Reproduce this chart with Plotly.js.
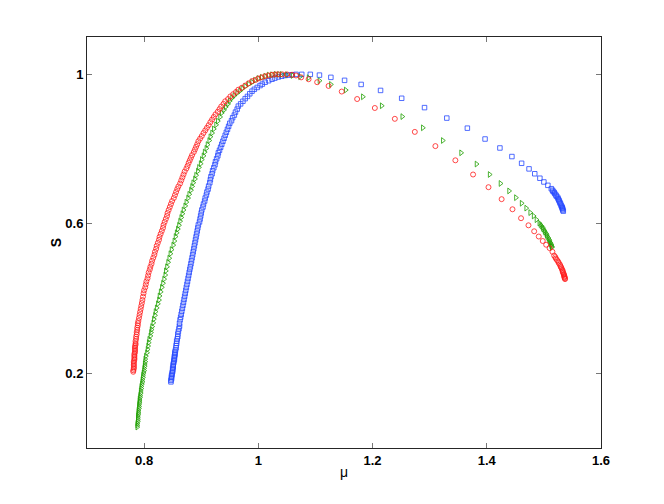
<!DOCTYPE html>
<html>
<head>
<meta charset="utf-8">
<script src="https://cdn.plot.ly/plotly-3.0.1.min.js"></script>
<style>
  html, body { margin: 0; padding: 0; background: #fff; }
  #chart { width: 664px; height: 504px; }
</style>
</head>
<body>
<div id="chart"></div>
<script>
(function () {
    'use strict';

    // values
    var redX = [
        0.781, 0.781, 0.782, 0.782, 0.782, 0.782, 0.782, 0.782, 0.783, 0.783, 0.783, 0.783, 0.783, 0.784, 0.784, 0.784, 0.784, 0.784, 0.785, 0.785,
        0.785, 0.786, 0.786, 0.787, 0.787, 0.788, 0.788, 0.789, 0.789, 0.790,
        0.791, 0.792, 0.793, 0.794, 0.795, 0.796, 0.797, 0.798, 0.799,
        0.800, 0.802, 0.803, 0.804, 0.806, 0.807, 0.808, 0.810, 0.811,
        0.813, 0.814, 0.816, 0.818, 0.819, 0.821, 0.822, 0.824, 0.826,
        0.827, 0.829, 0.831, 0.833, 0.834, 0.836, 0.838, 0.840, 0.841, 0.843,
        0.845, 0.847, 0.849, 0.852, 0.854, 0.856, 0.858, 0.860,
        0.863, 0.865, 0.867, 0.869, 0.871, 0.874, 0.876, 0.878,
        0.880, 0.882, 0.884, 0.887, 0.889, 0.891, 0.893, 0.895,
        0.898, 0.901, 0.904, 0.907, 0.910, 0.913, 0.916, 0.919,
        0.922, 0.925, 0.929, 0.932, 0.935, 0.939, 0.942,
        0.947, 0.951, 0.956, 0.961, 0.965,
        0.971, 0.977, 0.983, 0.989,
        0.995, 1.000, 1.006, 1.012,
        1.018, 1.024, 1.030, 1.035,
        1.042, 1.050, 1.059, 1.066,
        1.075, 1.088, 1.103, 1.123, 1.146, 1.173, 1.204, 1.239, 1.274, 1.310, 1.345, 1.376,
        1.403, 1.426, 1.445, 1.460, 1.473, 1.483, 1.491, 1.498, 1.504, 1.510, 1.515,
        1.518, 1.520, 1.521, 1.523, 1.525, 1.526, 1.528, 1.529, 1.530, 1.531, 1.532,
        1.533, 1.533, 1.534, 1.535, 1.535, 1.536, 1.536, 1.536, 1.537, 1.537
    ];
    var redY = [
        0.204, 0.208, 0.212, 0.216, 0.220, 0.224, 0.228, 0.232, 0.236, 0.240, 0.244, 0.248, 0.252, 0.256, 0.260, 0.264, 0.268, 0.272, 0.276, 0.280,
        0.286, 0.292, 0.298, 0.304, 0.310, 0.316, 0.322, 0.328, 0.334, 0.340,
        0.348, 0.356, 0.364, 0.372, 0.380, 0.388, 0.396, 0.405, 0.414,
        0.422, 0.430, 0.438, 0.446, 0.454, 0.462, 0.470, 0.478, 0.485,
        0.493, 0.501, 0.509, 0.517, 0.525, 0.533, 0.541, 0.549, 0.557,
        0.565, 0.573, 0.581, 0.589, 0.597, 0.605, 0.613, 0.621, 0.629, 0.637,
        0.645, 0.653, 0.661, 0.669, 0.677, 0.685, 0.693, 0.700,
        0.708, 0.716, 0.724, 0.732, 0.740, 0.748, 0.755, 0.763,
        0.770, 0.777, 0.784, 0.792, 0.799, 0.806, 0.813, 0.821,
        0.828, 0.835, 0.843, 0.850, 0.857, 0.864, 0.872, 0.879,
        0.886, 0.893, 0.900, 0.907, 0.914, 0.921, 0.928,
        0.934, 0.941, 0.947, 0.953, 0.959,
        0.964, 0.970, 0.976, 0.982,
        0.985, 0.989, 0.992, 0.995,
        0.997, 0.999, 1.000, 1.000,
        1.000, 1.000, 0.999, 0.997,
        0.992, 0.987, 0.979, 0.969, 0.954, 0.934, 0.910, 0.881, 0.846, 0.808, 0.770, 0.732,
        0.698, 0.666, 0.639, 0.615, 0.596, 0.580, 0.566, 0.554, 0.544, 0.535, 0.525,
        0.515, 0.511, 0.507, 0.503, 0.499, 0.495, 0.491, 0.487, 0.484, 0.481, 0.477,
        0.474, 0.471, 0.468, 0.465, 0.463, 0.460, 0.458, 0.456, 0.454, 0.452
    ];

    var greenX = [
        0.788, 0.788, 0.788, 0.789, 0.789, 0.789, 0.789, 0.790, 0.790, 0.790, 0.791, 0.791, 0.791, 0.792, 0.792, 0.792, 0.793, 0.793,
        0.794, 0.794, 0.795, 0.795, 0.796, 0.797, 0.797, 0.798, 0.798, 0.799, 0.800, 0.800, 0.801, 0.801, 0.802,
        0.802, 0.803, 0.805, 0.806, 0.807, 0.808, 0.809, 0.811, 0.812, 0.813, 0.814,
        0.816, 0.817, 0.819, 0.820, 0.822, 0.824, 0.826,
        0.827, 0.829, 0.831, 0.833, 0.835, 0.837, 0.838, 0.840,
        0.842, 0.844, 0.846, 0.848, 0.851, 0.853, 0.855,
        0.857, 0.859, 0.861, 0.863, 0.865, 0.867, 0.869,
        0.872, 0.874, 0.877, 0.879, 0.882, 0.884,
        0.886, 0.889, 0.891, 0.894, 0.896, 0.899, 0.901,
        0.904, 0.906, 0.909, 0.911, 0.914, 0.916, 0.919,
        0.922, 0.926, 0.929, 0.933, 0.936,
        0.940, 0.943, 0.947, 0.950, 0.954,
        0.958, 0.963, 0.968, 0.972, 0.977,
        0.983, 0.989, 0.994, 1.000,
        1.006, 1.012, 1.018, 1.024,
        1.030, 1.036, 1.041,
        1.050, 1.060, 1.073,
        1.088, 1.107, 1.127, 1.153, 1.183, 1.216, 1.252, 1.288, 1.323, 1.355, 1.382,
        1.405, 1.424, 1.439, 1.451, 1.461, 1.469, 1.476, 1.482, 1.487, 1.492,
        1.494, 1.496, 1.498, 1.499, 1.501, 1.502, 1.504, 1.505, 1.506,
        1.508, 1.509, 1.510, 1.511, 1.512, 1.513, 1.513, 1.514, 1.514
    ];
    var greenY = [
        0.056, 0.061, 0.066, 0.071, 0.076, 0.081, 0.086, 0.091, 0.096, 0.101, 0.106, 0.111, 0.116, 0.121, 0.126, 0.131, 0.136, 0.141,
        0.147, 0.153, 0.159, 0.165, 0.171, 0.177, 0.183, 0.189, 0.195, 0.201, 0.207, 0.213, 0.219, 0.225, 0.231,
        0.238, 0.246, 0.255, 0.264, 0.273, 0.282, 0.291, 0.300, 0.309, 0.317, 0.325,
        0.335, 0.345, 0.355, 0.365, 0.375, 0.386, 0.396,
        0.407, 0.418, 0.430, 0.441, 0.452, 0.463, 0.474, 0.485,
        0.497, 0.508, 0.520, 0.531, 0.543, 0.554, 0.566,
        0.576, 0.586, 0.596, 0.607, 0.617, 0.627, 0.637,
        0.648, 0.658, 0.669, 0.679, 0.690, 0.700,
        0.710, 0.720, 0.730, 0.741, 0.751, 0.761, 0.772,
        0.782, 0.792, 0.802, 0.812, 0.823, 0.833, 0.843,
        0.854, 0.865, 0.875, 0.886, 0.897,
        0.905, 0.913, 0.921, 0.929, 0.937,
        0.943, 0.950, 0.956, 0.962, 0.968,
        0.974, 0.979, 0.984, 0.989,
        0.992, 0.995, 0.998, 0.999,
        1.000, 1.000, 1.000,
        0.999, 0.997, 0.994,
        0.991, 0.983, 0.973, 0.958, 0.940, 0.916, 0.887, 0.857, 0.823, 0.790, 0.760,
        0.732, 0.708, 0.688, 0.670, 0.655, 0.642, 0.630, 0.621, 0.611, 0.602,
        0.598, 0.594, 0.590, 0.586, 0.582, 0.578, 0.574, 0.570, 0.566,
        0.562, 0.558, 0.554, 0.550, 0.547, 0.544, 0.541, 0.539, 0.537
    ];

    var blueX = [
        0.847, 0.847, 0.848, 0.848, 0.848, 0.849, 0.849, 0.850, 0.850, 0.850, 0.851, 0.851, 0.851, 0.852, 0.852, 0.853, 0.853, 0.853, 0.854, 0.854, 0.854, 0.855,
        0.856, 0.856, 0.857, 0.857, 0.858, 0.859, 0.859, 0.860, 0.861, 0.862, 0.862, 0.863,
        0.864, 0.865, 0.866, 0.867, 0.868, 0.869, 0.870, 0.871, 0.872,
        0.873, 0.874, 0.875, 0.876, 0.877, 0.878, 0.879, 0.880, 0.881,
        0.882, 0.883, 0.884, 0.885, 0.886, 0.887, 0.888, 0.889, 0.890,
        0.891, 0.892, 0.893, 0.894, 0.895, 0.897, 0.898, 0.899, 0.900, 0.901,
        0.903, 0.904, 0.906, 0.907, 0.909, 0.910, 0.912, 0.913, 0.915, 0.916,
        0.917, 0.919, 0.920, 0.922, 0.924, 0.925, 0.927, 0.929, 0.930,
        0.932, 0.934, 0.936, 0.938, 0.940, 0.942, 0.944, 0.946, 0.948,
        0.950, 0.953, 0.955, 0.958, 0.960, 0.963, 0.965,
        0.969, 0.973, 0.977, 0.981, 0.985, 0.989,
        0.993, 0.998, 1.003, 1.007, 1.012,
        1.018, 1.024, 1.029, 1.035,
        1.041, 1.047, 1.053, 1.059,
        1.066, 1.076,
        1.091, 1.107, 1.127, 1.151, 1.180, 1.214, 1.251, 1.291, 1.330, 1.366,
        1.397, 1.423, 1.444, 1.461, 1.474, 1.484, 1.493, 1.500, 1.507, 1.513,
        1.515, 1.516, 1.518, 1.519, 1.521, 1.522, 1.524, 1.525, 1.526, 1.527,
        1.528, 1.529, 1.530, 1.531, 1.532, 1.532, 1.533, 1.533, 1.534
    ];
    var blueY = [
        0.177, 0.181, 0.185, 0.189, 0.193, 0.197, 0.201, 0.205, 0.209, 0.213, 0.217, 0.221, 0.225, 0.229, 0.233, 0.237, 0.241, 0.245, 0.249, 0.253, 0.257, 0.262,
        0.268, 0.274, 0.280, 0.286, 0.292, 0.298, 0.305, 0.312, 0.319, 0.326, 0.334, 0.343,
        0.350, 0.358, 0.366, 0.374, 0.382, 0.390, 0.398, 0.406, 0.414,
        0.422, 0.430, 0.438, 0.446, 0.454, 0.462, 0.470, 0.478, 0.485,
        0.493, 0.501, 0.509, 0.517, 0.525, 0.533, 0.541, 0.549, 0.557,
        0.565, 0.573, 0.581, 0.589, 0.597, 0.605, 0.613, 0.621, 0.629, 0.637,
        0.645, 0.653, 0.661, 0.669, 0.677, 0.685, 0.693, 0.701, 0.710, 0.718,
        0.726, 0.734, 0.742, 0.750, 0.758, 0.766, 0.774, 0.782, 0.790,
        0.797, 0.805, 0.813, 0.821, 0.829, 0.837, 0.845, 0.853, 0.861,
        0.869, 0.876, 0.884, 0.891, 0.899, 0.907, 0.915,
        0.921, 0.928, 0.935, 0.941, 0.948, 0.955,
        0.960, 0.965, 0.970, 0.974, 0.979,
        0.983, 0.987, 0.990, 0.993,
        0.995, 0.997, 0.998, 0.999,
        1.000, 1.000,
        1.000, 0.998, 0.992, 0.984, 0.973, 0.957, 0.936, 0.911, 0.883, 0.856,
        0.827, 0.803, 0.780, 0.762, 0.747, 0.734, 0.722, 0.712, 0.703, 0.694,
        0.690, 0.687, 0.684, 0.681, 0.677, 0.674, 0.671, 0.667, 0.664, 0.661,
        0.657, 0.654, 0.650, 0.647, 0.644, 0.642, 0.640, 0.637, 0.634
    ];

    var xTickVals = [0.8, 1, 1.2, 1.4, 1.6];
    var xTickText = ['0.8', '1', '1.2', '1.4', '1.6'];
    var yTickVals = [0.2, 0.6, 1];
    var yTickText = ['0.2', '0.6', '1'];

    var RED = '#ff1a1a';
    var GREEN = '#1ea000';
    var BLUE = '#2448ff';

    function markerTrace(xs, ys, symbol, color, size) {
        return {
            x: xs,
            y: ys,
            mode: 'markers',
            type: 'scatter',
            marker: {
                symbol: symbol,
                size: size,
                color: color,
                line: { color: color, width: 0.8 }
            },
            hoverinfo: 'skip',
            showlegend: false
        };
    }

    var data = [
        markerTrace(blueX, blueY, 'square-open', BLUE, 4.5),
        markerTrace(greenX, greenY, 'triangle-right-open', GREEN, 5),
        markerTrace(redX, redY, 'circle-open', RED, 5)
    ];

    var tickFont = { family: 'Liberation Sans, Arial, sans-serif', size: 13, color: '#000', weight: 'bold' };

    var axisStyle = {
        showline: true,
        linecolor: '#262626',
        linewidth: 1,
        mirror: 'ticks',
        ticks: 'inside',
        ticklen: 5,
        tickwidth: 1,
        tickcolor: '#777',
        showgrid: false,
        zeroline: false,
        tickfont: tickFont
    };

    var layout = {
        width: 664,
        height: 504,
        autosize: false,
        paper_bgcolor: '#fff',
        plot_bgcolor: '#fff',
        margin: { l: 87, r: 63, t: 37, b: 56, pad: 0 },
        xaxis: Object.assign({}, axisStyle, {
            range: [0.7, 1.6],
            tickmode: 'array',
            tickvals: xTickVals,
            ticktext: xTickText,
            title: { text: 'μ', font: { family: 'Liberation Sans, Arial, sans-serif', size: 14, color: '#000' }, standoff: 0 }
        }),
        yaxis: Object.assign({}, axisStyle, {
            range: [0, 1.1],
            tickmode: 'array',
            tickvals: yTickVals,
            ticktext: yTickText,
            title: { text: 'S', font: { family: 'Liberation Sans, Arial, sans-serif', size: 14, color: '#000', weight: 'bold' }, standoff: 0 }
        })
    };

    Plotly.newPlot('chart', data, layout, { staticPlot: true, displayModeBar: false });
})();
</script>
</body>
</html>
